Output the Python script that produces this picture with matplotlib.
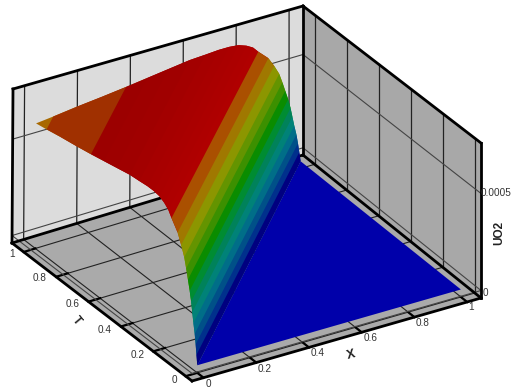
from matplotlib import pyplot as plt
from matplotlib.patches import Polygon
import numpy as np

plt.rcParams['font.family'] = ['Liberation Sans', 'DejaVu Sans']

# profile of the surface across the front, d = T - x, strips between points
ridge_d = [0, .005, .01, .016, .024, .031, .038, .047, .058, .069, .081, .1, .122, .16,
           .18, .205, .235, .27, .31, .36, .42, .5, .58, .66, .75, .85, .935, 1.0]
ridge_u = [0, .00005, .0001, .00015, .0002, .00025, .0003, .00035, .0004, .00045, .0005, .00055,
           .0006, .00065, .00068, .0007, .000715, .00072, .00072, .000715, .00071, .000695, .00068, .000665,
           .00065, .000635, .00062, .00061]
strip_colors = ['#000080', '#00308c', '#005088', '#006e88', '#008278', '#00825a', '#008c32', '#0a8c00',
                '#3c9000', '#649400', '#8c9600', '#a07800', '#aa5000', '#b00000', '#ae0000', '#ac0000',
                '#aa0000', '#a80000', '#a60000', '#a30000', '#a00000', '#9e0000', '#9c0000',
                '#a03000', '#a03000', '#a03000', '#a86800']
blue = '#0000aa'

tick_vals = [0, .2, .4, .6, .8, 1]
tick_labels = ['0', '0.2', '0.4', '0.6', '0.8', '1']

# box corners in pixels
floor_f = np.array([192, 381.])
floor_r = np.array([481, 298.])
floor_l = np.array([12, 243.])
floor_b = np.array([303, 155.])
top_f = np.array([192, 224.])
top_r = np.array([481, 143.])
top_l = np.array([13, 89.])
top_b = np.array([303, 6.])
U_MIN = -.0000387
U_MAX = .00076


def bilin(p0, px, pt, pxt, a, b):
    return (1-a)*(1-b)*p0 + a*(1-b)*px + (1-a)*b*pt + a*b*pxt


def box(a, b, c):
    low = bilin(floor_f, floor_r, floor_l, floor_b, a, b)
    high = bilin(top_f, top_r, top_l, top_b, a, b)
    return low + c*(high-low)


def proj(x, t, u):
    return box(.04+.912*x, .035+.9*t, (u-U_MIN)/(U_MAX-U_MIN))


fig = plt.figure(figsize=(5.12, 3.92), dpi=100)
ax = fig.add_axes([0, 0, 1, 1])
ax.set_xlim(0, 512)
ax.set_ylim(392, 0)
ax.axis('off')

ax.add_patch(Polygon([floor_l, floor_b, top_b, top_l], fc='#dcdcdc', ec='none'))
ax.add_patch(Polygon([floor_b, floor_r, top_r, top_b], fc='#a8a8a8', ec='none'))
ax.add_patch(Polygon([floor_f, floor_r, floor_b, floor_l], fc='#aaaaaa', ec='none'))


def line(p, q, lw=1.0, col='#222222'):
    ax.plot([p[0], q[0]], [p[1], q[1]], color=col, lw=lw, solid_capstyle='projecting', zorder=2)


# grid
for v in tick_vals:
    a = .04+.912*v
    b = .035+.9*v
    line(box(a, 0, 0), box(a, 1, 0), .8)      # floor, x
    line(box(0, b, 0), box(1, b, 0), .8)      # floor, T
    line(box(a, 1, 0), box(a, 1, 1), .9)      # back wall
    line(box(1, b, 0), box(1, b, 1), .9)      # right wall
    line(box(a, 0, 0), box(a, .035, 0), 1.6, 'black')
    line(box(0, b, 0), box(.04, b, 0), 1.6, 'black')
for u in [0, .0005]:
    c = (u-U_MIN)/(U_MAX-U_MIN)
    line(box(0, 1, c), box(1, 1, c), .8, '#444444')
    line(box(1, 1, c), box(1, 0, c), .8, '#444444')
c0 = -U_MIN/(U_MAX-U_MIN)
line(box(0, 0, c0), box(1, 0, c0), .8, '#444444')
line(box(0, 0, c0), box(0, 1, c0), .8, '#444444')

# box edges
for p, q in [(floor_f, floor_r), (floor_f, floor_l), (floor_l, floor_b), (floor_b, floor_r),
             (floor_l, top_l), (floor_b, top_b), (floor_r, top_r), (top_l, top_b), (top_b, top_r)]:
    line(p, q, 2.0, 'black')

# surface, back to front. each strip runs on under the one in front so no seams show
ax.add_patch(Polygon([proj(0, 0, 0), proj(1, 0, 0), proj(1, 1, 0)], fc=blue, ec='none', zorder=3))
n = len(strip_colors)
for i in range(n-1, -1, -1):
    k = max(i-1, 0)
    d0, d1, d2 = ridge_d[k], ridge_d[i], ridge_d[i+1]
    u0, u1, u2 = ridge_u[k], ridge_u[i], ridge_u[i+1]
    pts = [proj(0, d0, u0), proj(1-d0, 1, u0), proj(1-d1, 1, u1), proj(1-d2, 1, u2),
           proj(0, d2, u2), proj(0, d1, u1)]
    ax.add_patch(Polygon(pts, fc=strip_colors[i], ec='none', zorder=4+n-i))

# labels
fs = 7.2
x_label_pos = [(208, 384), (265, 369), (318, 353), (371, 338), (423, 323), (471, 307)]
t_label_pos = [(174, 380), (138, 355), (105, 330), (73, 304), (40, 278), (12, 254)]
for s, (px, py) in zip(tick_labels, x_label_pos):
    ax.text(px, py, s, ha='center', va='center', fontsize=fs, color='#333333')
for s, (px, py) in zip(tick_labels, t_label_pos):
    ax.text(px, py, s, ha='center', va='center', fontsize=fs, color='#333333')
ax.text(483, 293, '0', ha='left', va='center', fontsize=fs, color='#333333')
ax.text(481, 193, '0.0005', ha='left', va='center', fontsize=fs, color='#333333')
ax.text(351, 355, 'X', ha='center', va='center', fontsize=9, weight='bold', rotation=15, color='#222222')
ax.text(76, 321, 'T', ha='center', va='center', fontsize=8.5, weight='bold', rotation=-50, color='#222222')
ax.text(499, 233, 'UO2', ha='center', va='center', fontsize=8.5, weight='bold', rotation=90, color='#222222')

fig.savefig('out.png', dpi=100)
